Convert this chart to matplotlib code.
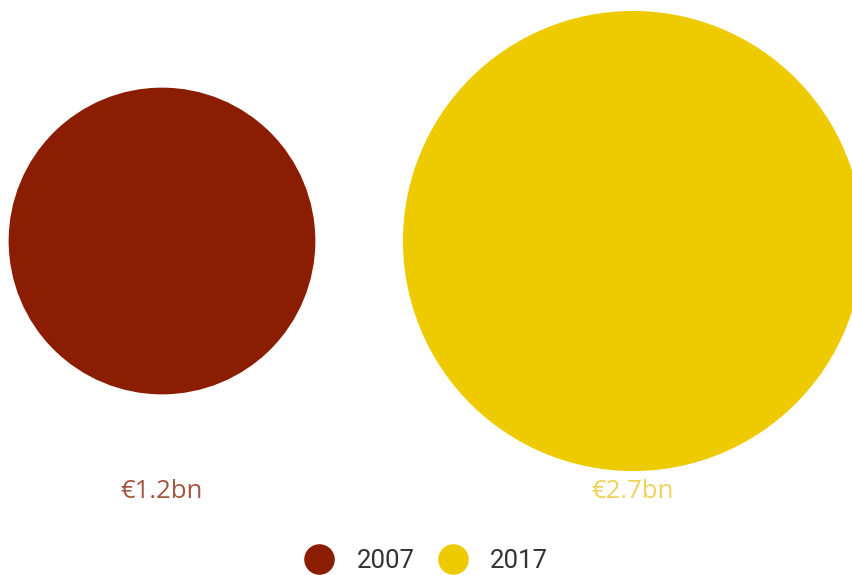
import numpy as np
import matplotlib
matplotlib.use("Agg")
import matplotlib.pyplot as plt
from matplotlib.patches import Circle
from matplotlib.lines import Line2D

years = ["2007", "2017"]
values = [1.2, 2.7]  # EUR bn
labels = ["€1.2bn", "€2.7bn"]
colors = ["#8B1E02", "#EECB00"]
label_colors = ["#A4553F", "#EED25A"]

W, H = 852, 575
fig = plt.figure(figsize=(W / 100, H / 100), dpi=100)
ax = fig.add_axes([0, 0, 1, 1])
ax.set_xlim(0, W)
ax.set_ylim(H, 0)
ax.axis("off")

# bubble area proportional to value
scale = 140.0
x0, dx, cy = 162, 471, 241
for i, (v, c, lab, lc) in enumerate(zip(values, colors, labels, label_colors)):
    cx = x0 + i * dx
    r = scale * np.sqrt(v)
    ax.add_patch(Circle((cx, cy), r, color=c, lw=0))
    ax.text(cx, 491, lab, color=lc, fontsize=18.5, family="Open Sans",
            ha="center", va="center")

handles = [Line2D([], [], marker="o", ls="", markersize=21, color=c) for c in colors]
ax.legend(handles, years, loc="center", bbox_to_anchor=(0.5, 1 - 561 / H),
          ncol=2, frameon=False, prop={"family": "Roboto", "size": 18.5},
          handlelength=1.2, handletextpad=0.85, columnspacing=0.9,
          labelcolor="#333333")

fig.savefig("out.png", dpi=100)
